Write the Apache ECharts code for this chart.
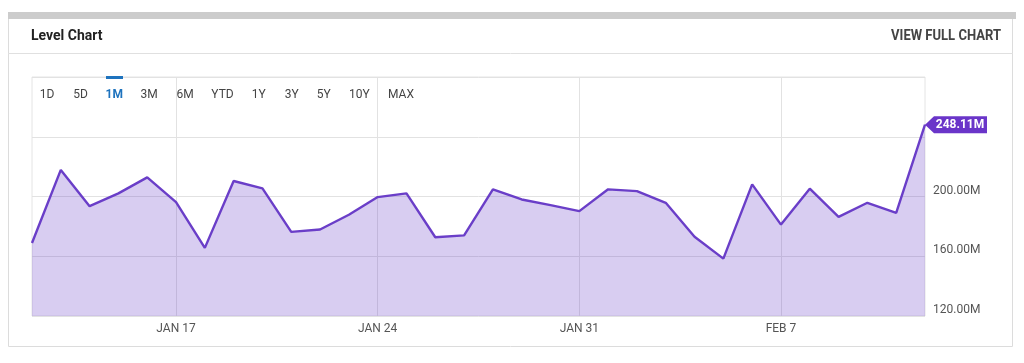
<!DOCTYPE html>
<html>
<head>
<meta charset="utf-8">
<script src="https://cdn.jsdelivr.net/npm/echarts@6/dist/echarts.min.js"></script>
<style>
  html, body { margin: 0; padding: 0; background: #fff; }
  #chart { width: 1024px; height: 363px; }
</style>
</head>
<body>
<div id="chart"></div>
<script>
const categories = [
  'JAN 12','JAN 13','JAN 14','JAN 15','JAN 16','JAN 17','JAN 18','JAN 19','JAN 20','JAN 21',
  'JAN 22','JAN 23','JAN 24','JAN 25','JAN 26','JAN 27','JAN 28','JAN 29','JAN 30','JAN 31',
  'FEB 1','FEB 2','FEB 3','FEB 4','FEB 5','FEB 6','FEB 7','FEB 8','FEB 9','FEB 10',
  'FEB 11','FEB 12'
];
const levels = [
  168.9, 217.8, 193.5, 202.1, 212.8, 196.2, 165.6, 210.4, 205.4, 176.3,
  177.9, 187.8, 199.6, 202.1, 172.7, 174.0, 204.8, 198.0, 194.2, 190.2,
  204.8, 203.6, 195.8, 173.0, 158.4, 208.1, 181.2, 205.2, 186.4, 195.8,
  189.1, 248.11
];
const labeledDates = ['JAN 17', 'JAN 24', 'JAN 31', 'FEB 7'];
const yTicks = [120, 160, 200];
const rangeButtons = ['1D','5D','1M','3M','6M','YTD','1Y','3Y','5Y','10Y','MAX'];
const rangeButtonX = [47, 80.5, 114.3, 149, 185, 222.5, 258.7, 291.7, 323.7, 359.3, 401];

const lineColor = '#6a3ec8';
const font = 'Roboto, "Noto Sans", sans-serif';

const chart = echarts.init(document.getElementById('chart'));
const isLabeled = (i) => labeledDates.indexOf(categories[i]) >= 0;

const graphics = [
  { type: 'rect', shape: { x: 8.5, y: 12.5, width: 1004, height: 334 }, style: { fill: 'none', stroke: '#dcdcdc', lineWidth: 1 }, z: 0 },
  { type: 'rect', shape: { x: 8, y: 12, width: 1008, height: 7 }, style: { fill: '#cccccc' }, z: 1 },
  { type: 'line', shape: { x1: 8, y1: 53.5, x2: 1013, y2: 53.5 }, style: { stroke: '#e0e0e0', lineWidth: 1 }, z: 1 },
  { type: 'text', x: 31, y: 36, style: { text: 'Level Chart', font: 'bold 14px ' + font, fill: '#222', verticalAlign: 'middle' }, z: 2 },
  { type: 'text', x: 1001, y: 36, scaleX: 0.93, style: { text: 'VIEW FULL CHART', font: 'bold 14px ' + font, fill: '#444', align: 'right', verticalAlign: 'middle' }, z: 2 },
  { type: 'rect', shape: { x: 106, y: 76, width: 17, height: 3 }, style: { fill: '#1e73be' }, z: 20 }
];
rangeButtons.forEach((t, i) => {
  graphics.push({
    type: 'text', x: rangeButtonX[i], y: 94.5, z: 20,
    style: {
      text: t, font: (t === '1M' ? 'bold ' : '') + '12px ' + font,
      fill: t === '1M' ? '#1e73be' : '#444', align: 'center', verticalAlign: 'middle'
    }
  });
});

chart.setOption({
  animation: false,
  grid: { left: 32, right: 99, top: 77, bottom: 47, show: true, borderColor: '#e4e4e4', borderWidth: 1 },
  xAxis: {
    type: 'category',
    data: categories,
    boundaryGap: false,
    axisLine: { show: false },
    axisTick: { show: false },
    axisLabel: { interval: (i) => isLabeled(i), color: '#555', fontFamily: font, fontSize: 12, margin: 7 },
    splitLine: { show: true, interval: (i) => isLabeled(i), lineStyle: { color: '#e2e2e2', width: 1 } }
  },
  yAxis: {
    type: 'value',
    position: 'right',
    min: 120, max: 280, interval: 40,
    axisLine: { show: false },
    axisTick: { show: false },
    axisLabel: {
      color: '#555', fontFamily: font, fontSize: 12, margin: 8, verticalAlign: 'bottom',
      formatter: (v) => yTicks.indexOf(v) >= 0 ? v.toFixed(2) + 'M' : ''
    },
    splitLine: { show: true, lineStyle: { color: '#e2e2e2', width: 1 } }
  },
  series: [{
    type: 'line',
    data: levels,
    symbol: 'none',
    lineStyle: { color: lineColor, width: 2.4 },
    areaStyle: { color: lineColor, opacity: 0.26 },
    z: 5,
    markPoint: {
      symbol: 'path://M0,8.5 L9,0 L62,0 L62,17 L9,17 Z',
      symbolSize: [62, 17],
      symbolOffset: [31, 0],
      itemStyle: { color: '#6a35c9' },
      label: {
        show: true, position: 'inside', offset: [4, 0], color: '#fff',
        fontFamily: font, fontWeight: 'bold', fontSize: 12,
        formatter: (p) => p.value.toFixed(2) + 'M'
      },
      data: [{ coord: [categories[categories.length - 1], levels[levels.length - 1]], value: levels[levels.length - 1] }],
      z: 30
    }
  }],
  graphic: graphics
});
</script>
</body>
</html>
